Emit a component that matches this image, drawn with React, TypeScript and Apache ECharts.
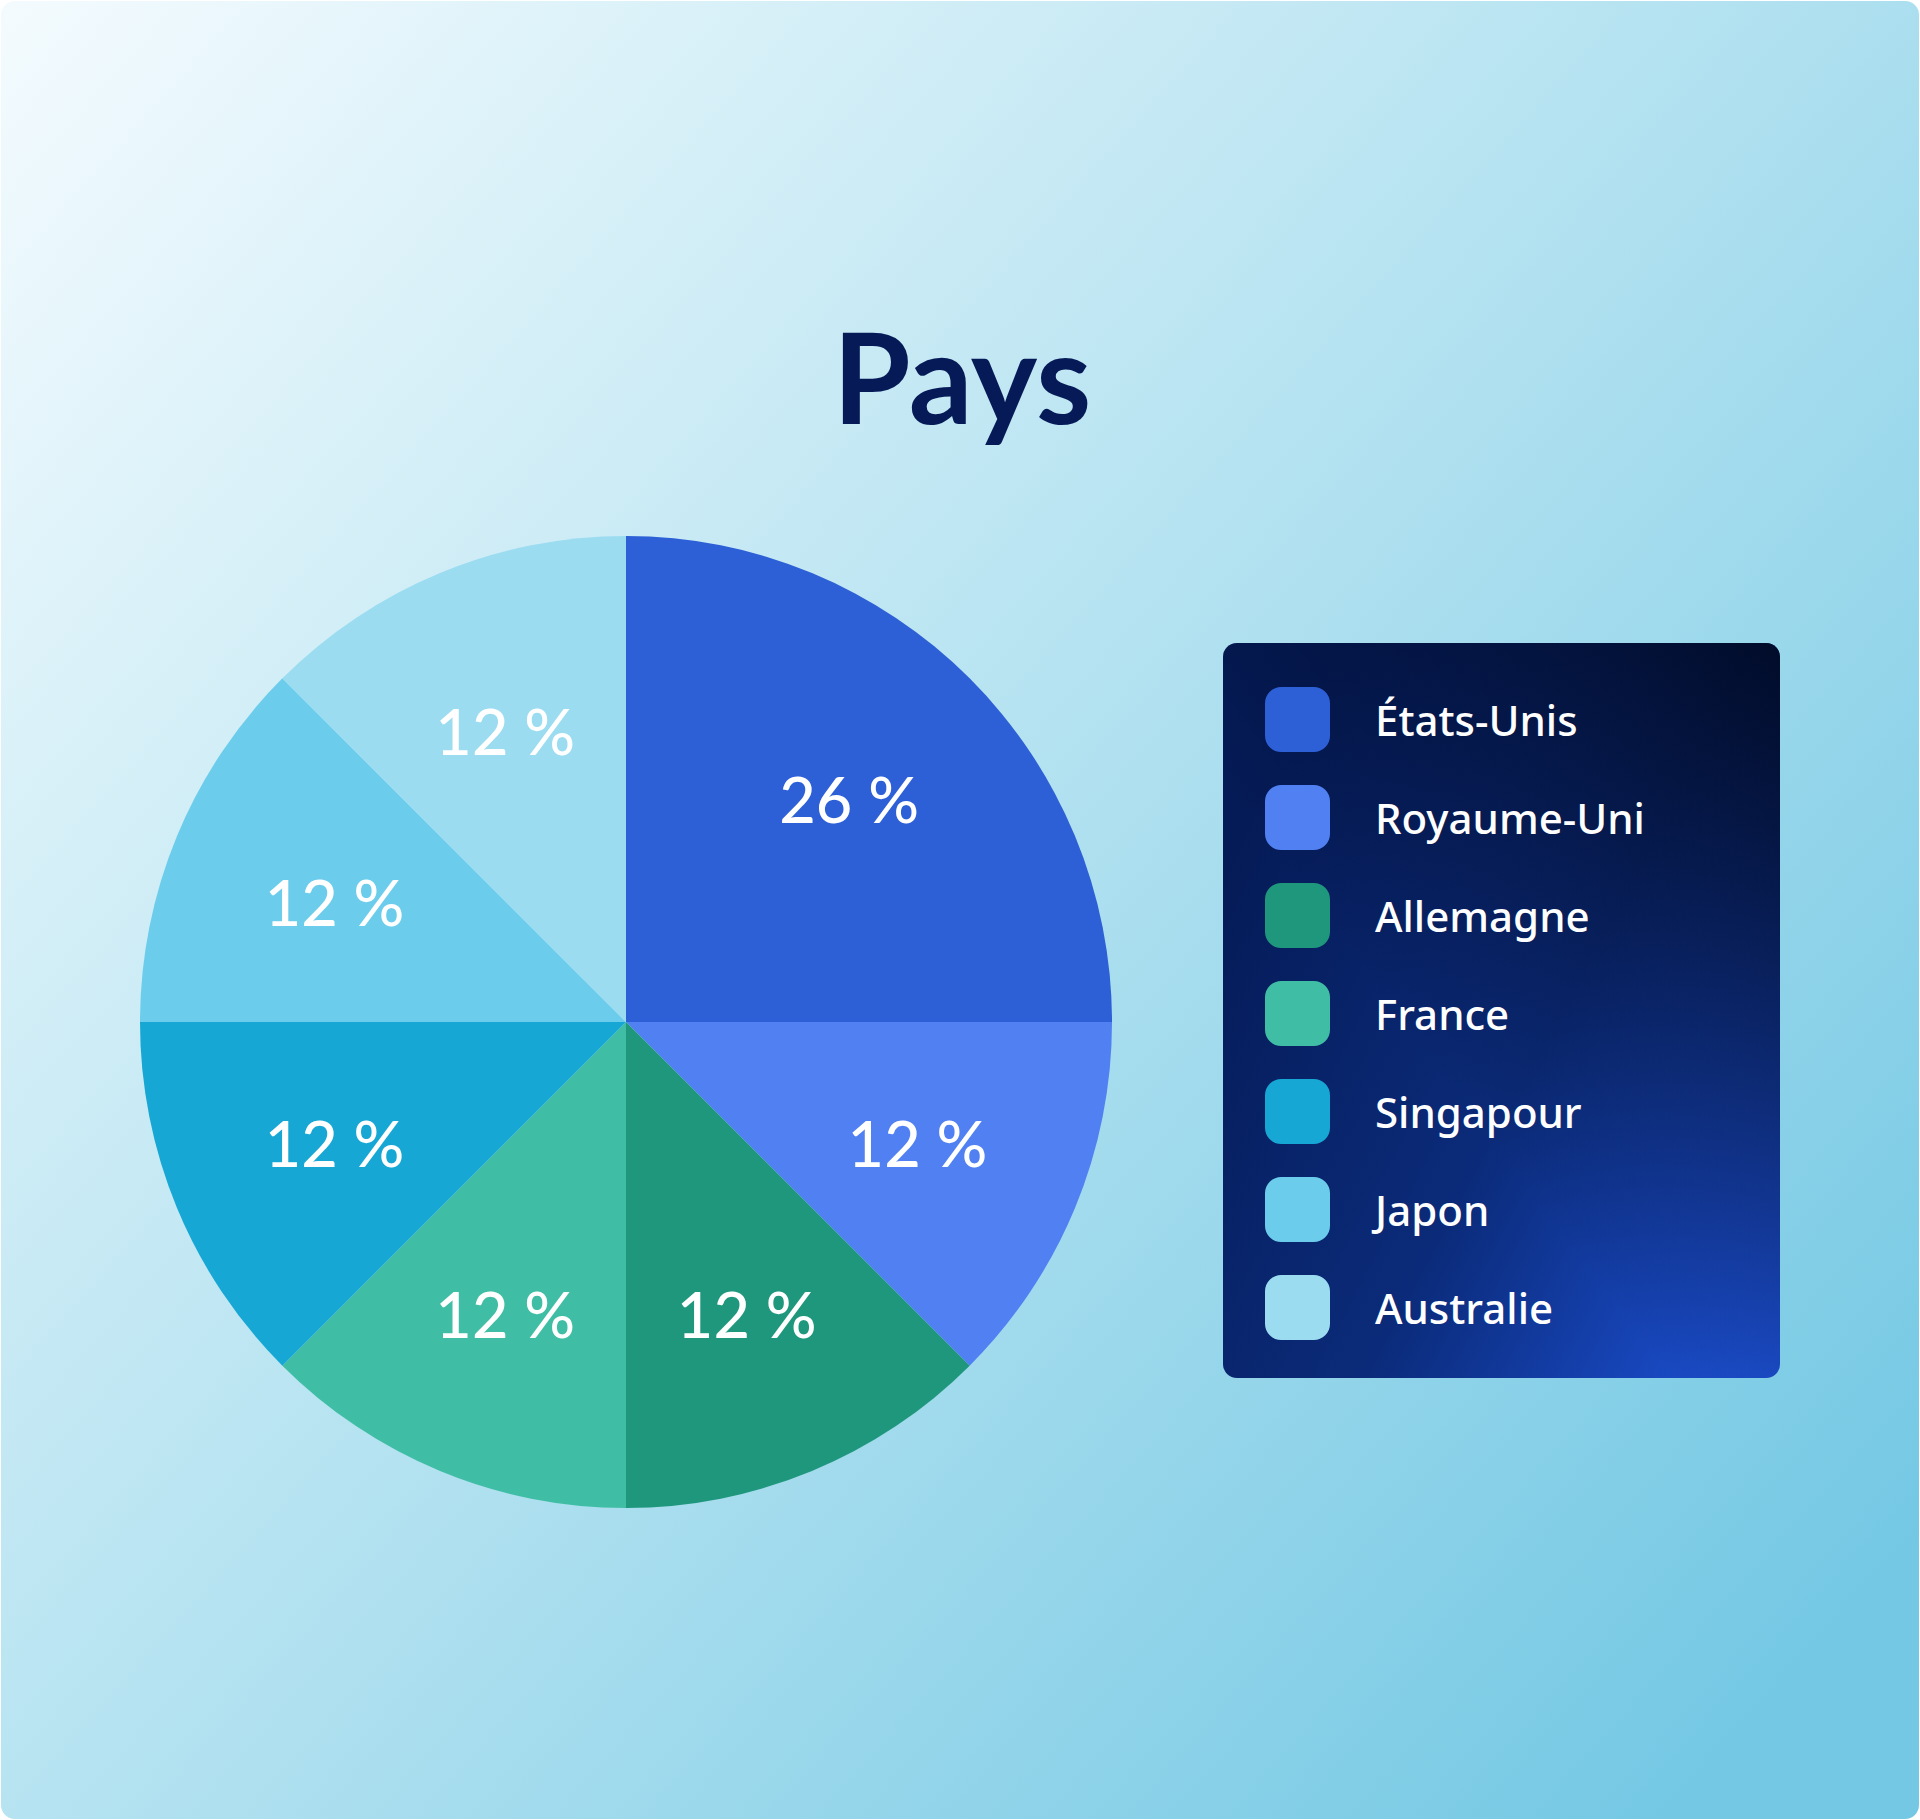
import React, { useEffect, useRef } from 'react';
import * as echarts from 'echarts';

const countries = ['États-Unis', 'Royaume-Uni', 'Allemagne', 'France', 'Singapour', 'Japon', 'Australie'];
// percentages printed on the slices
const percentLabels = [26, 12, 12, 12, 12, 12, 12];
// slice sizes as drawn (a quarter, then six eighths)
const sliceShares = [25, 12.5, 12.5, 12.5, 12.5, 12.5, 12.5];
const sliceColors = ['#2d5fd6', '#5080f1', '#1f977d', '#40bea5', '#16a7d4', '#6bcdeb', '#9bdcf1'];

const FONT = 'Lato, "Noto Sans", sans-serif';
const LEGEND_FONT = '"Noto Sans", Lato, sans-serif';

export default function App() {
  const elRef = useRef<HTMLDivElement>(null);

  useEffect(() => {
    if (!elRef.current) return;
    const chart = echarts.init(elRef.current, undefined, { renderer: 'svg' });

    const pieData = countries.map((name, i) => ({
      name,
      value: sliceShares[i],
      itemStyle: { color: sliceColors[i] },
    }));

    chart.setOption({
      animation: false,
      graphic: [
        {
          type: 'rect',
          z: 0,
          shape: { x: 1, y: 1, width: 1918, height: 1818, r: 14 },
          style: {
            fill: new echarts.graphic.LinearGradient(0, 0, 1, 0.85, [
              { offset: 0, color: '#f4fbfe' },
              { offset: 0.5, color: '#b6e3f1' },
              { offset: 1, color: '#74c8e4' },
            ]),
          },
        },
        {
          type: 'rect',
          z: 1,
          shape: { x: 1223, y: 643, width: 557, height: 735, r: 14 },
          style: {
            fill: new echarts.graphic.LinearGradient(0, 0.3, 1, 1, [
              { offset: 0, color: '#051b57' },
              { offset: 0.5, color: '#0b2b7a' },
              { offset: 1, color: '#1e54dc' },
            ]),
          },
        },
        {
          type: 'rect',
          z: 1,
          shape: { x: 1223, y: 643, width: 557, height: 735, r: 14 },
          style: {
            fill: new echarts.graphic.LinearGradient(1, 0, 0.4, 0.6, [
              { offset: 0, color: 'rgba(0,8,32,0.9)' },
              { offset: 1, color: 'rgba(0,8,32,0)' },
            ]),
          },
        },
        {
          type: 'text',
          z: 2,
          x: 962,
          y: 375,
          style: {
            text: 'Pays',
            fill: '#061a57',
            font: `bold 126px ${FONT}`,
            align: 'center',
            verticalAlign: 'middle',
          },
        },
      ],
      legend: {
        orient: 'vertical',
        left: 1265,
        top: 687,
        padding: 0,
        itemWidth: 65,
        itemHeight: 65,
        itemGap: 33,
        icon: 'roundRect',
        selectedMode: false,
        data: countries,
        textStyle: {
          color: '#ffffff',
          fontSize: 42,
          fontWeight: 500,
          fontFamily: LEGEND_FONT,
          padding: [0, 0, 0, 40],
        },
      },
      series: [
        {
          type: 'pie',
          center: [626, 1022],
          radius: [0, 486],
          startAngle: 90,
          clockwise: true,
          silent: true,
          label: { show: false },
          labelLine: { show: false },
          itemStyle: { borderWidth: 0 },
          emphasis: { disabled: true },
          data: pieData,
        },
        {
          // transparent copy only to place the percentages at ~0.64 r
          type: 'pie',
          center: [626, 1022],
          radius: [139, 486],
          startAngle: 90,
          clockwise: true,
          silent: true,
          itemStyle: { color: 'rgba(0,0,0,0)', borderWidth: 0 },
          emphasis: { disabled: true },
          labelLine: { show: false },
          label: {
            show: true,
            position: 'inside',
            color: '#ffffff',
            fontSize: 63,
            fontWeight: 500,
            fontFamily: FONT,
            formatter: (p: any) => `${percentLabels[p.dataIndex]} %`,
          },
          data: countries.map((name, i) => ({ name, value: sliceShares[i] })),
        },
      ],
    });

    return () => chart.dispose();
  }, []);

  return (
    <div
      ref={elRef}
      style={{ position: 'absolute', left: 0, top: 0, width: 1920, height: 1820, background: '#ffffff' }}
    />
  );
}
